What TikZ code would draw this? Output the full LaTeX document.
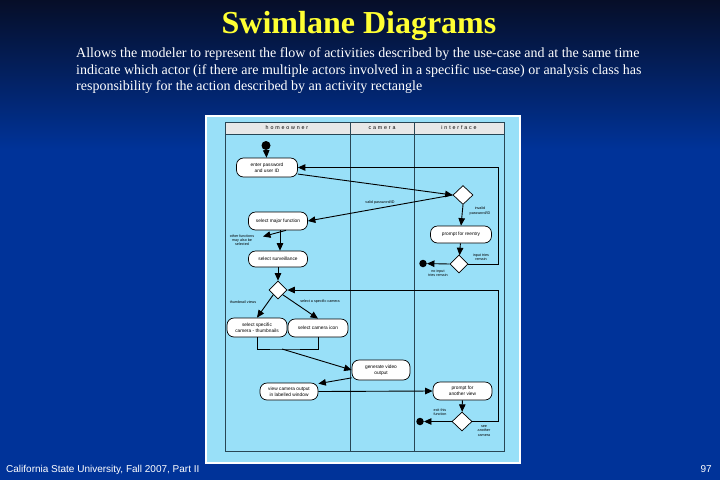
\documentclass[tikz,border=0pt]{standalone}
\usepackage{fontspec}
\setmainfont{Liberation Serif}
\newfontfamily\dsans{Liberation Sans}
\newfontfamily\lanefont[LetterSpace=35]{Liberation Sans}
\usetikzlibrary{shapes.geometric,arrows.meta,calc}
\definecolor{slideblue}{RGB}{0,51,153}
\definecolor{slidetop}{RGB}{6,14,40}
\definecolor{titleyellow}{RGB}{255,255,51}
\definecolor{panelblue}{RGB}{153,224,248}
\definecolor{laneline}{RGB}{40,70,85}
\definecolor{headgray}{RGB}{232,232,232}
\begin{document}
\begin{tikzpicture}[x=1pt,y=-1pt,
  act/.style={draw=black, line width=0.7pt, fill=white, rounded corners=7pt, align=center,
    inner sep=0pt, font=\dsans\fontsize{4.8}{5.6}\selectfont},
  dec/.style={diamond, draw=black, fill=white, line width=0.7pt, inner sep=0pt,
    minimum width=20pt, minimum height=19pt},
  flow/.style={draw=black, line width=0.9pt, -{Triangle[length=7.5pt,width=6.5pt]}},
  plain/.style={draw=black, line width=0.9pt},
  lbl/.style={font=\dsans\fontsize{3.7}{4.3}\selectfont, align=center, inner sep=0pt},
  fin/.style={circle, fill=black, minimum size=7.5pt, inner sep=0pt},
  lanehead/.style={font=\lanefont\fontsize{5.3}{6}\selectfont, inner sep=0pt}
]
\useasboundingbox (0,0) rectangle (720,480);
% background
\shade[top color=slidetop, bottom color=slideblue] (0,0) rectangle (720,150);
\fill[slideblue] (0,149.5) rectangle (720,480);

% texts
\node[anchor=base, text=titleyellow, font=\fontsize{32}{36}\selectfont\bfseries] (title) at (359,33) {Swimlane Diagrams};
\node[anchor=base west, text=white, font=\fontsize{14}{16}\selectfont, inner sep=0pt] (b1) at (76,57.5) {Allows the modeler to represent the flow of activities described by the use-case and at the same time};
\node[anchor=base west, text=white, font=\fontsize{14}{16}\selectfont, inner sep=0pt] (b2) at (76,74) {indicate which actor (if there are multiple actors involved in a specific use-case) or analysis class has};
\node[anchor=base west, text=white, font=\fontsize{14}{16}\selectfont, inner sep=0pt] (b3) at (76,90.5) {responsibility for the action described by an activity rectangle};
\node[anchor=base west, text=white, font=\dsans\fontsize{10}{11}\selectfont, inner sep=0pt] (foot) at (6,472) {California State University, Fall 2007, Part II};
\node[anchor=base east, text=white, font=\dsans\fontsize{10}{11}\selectfont, inner sep=0pt] (pg) at (712,472) {97};

% panel
\draw[white, line width=1.5pt, fill=panelblue] (206,116) rectangle (520,463);
\fill[headgray] (225,122) rectangle (504,134);
\draw[laneline, line width=0.7pt] (225,122) rectangle (504,451);
\draw[laneline, line width=0.7pt] (225,134) -- (504,134);
\draw[laneline, line width=0.7pt] (350,122) -- (350,451);
\draw[laneline, line width=0.7pt] (414,122) -- (414,451);
\node[lanehead] (h1) at (287,128) {homeowner};
\node[lanehead] (h2) at (382,128) {camera};
\node[lanehead] (h3) at (459,128) {interface};

% nodes
\node[circle, fill=black, minimum size=9pt, inner sep=0pt] (st) at (266,145.5) {};
\node[act, minimum width=61pt, minimum height=19pt] (e1) at (267,167.5) {enter password\\and user ID};
\node[dec] (d1) at (463,195) {};
\node[act, minimum width=59pt, minimum height=18pt] (a2) at (278,221) {select major function};
\node[act, minimum width=61pt, minimum height=17pt] (r1) at (461,234.5) {prompt for reentry};
\node[dec, minimum width=18pt, minimum height=18pt] (d2) at (459,264) {};
\node[fin] (f1) at (423,263.5) {};
\node[act, minimum width=59pt, minimum height=16pt] (a3) at (278,259) {select surveillance};
\node[dec, minimum width=18pt, minimum height=18pt] (d3) at (278,290) {};
\node[act, minimum width=60pt, minimum height=19pt] (a4) at (257,327.5) {select specific\\camera - thumbnails};
\node[act, minimum width=60pt, minimum height=18pt] (a5) at (318,328) {select camera icon};
\node[act, minimum width=58pt, minimum height=20pt] (a6) at (381,370) {generate video\\output};
\node[act, minimum width=58pt, minimum height=17pt] (a7) at (289,391.5) {view camera output\\in labelled window};
\node[act, minimum width=59pt, minimum height=18pt] (a8) at (462.5,391) {prompt for\\another view};
\node[dec] (d4) at (462,421.5) {};
\node[fin] (f2) at (420,421.5) {};
\coordinate (c1) at (498,167.5);
\coordinate (c2) at (498,290);
\coordinate (oth) at (263,236.5);
\coordinate (j) at (282,349);

% connectors
\draw[flow] (st) -- (e1);
\draw[flow] (e1.-12) -- (d1.west);
\draw[flow] (d1.west) -- (a2.east);
\draw[flow] (d1.south) -- (r1.north);
\draw[flow] ($(a2.south)+(2,0)$) -- ($(a3.north)+(2,0)$);
\draw[flow] ($(a2.south)+(8,0)$) -- (oth);
\draw[flow] (r1) -- (d2);
\draw[flow] (d2.west) -- (f1);
\draw[flow] (d2.east) -| (c1) -- (e1.east);
\draw[flow] (a3) -- (d3);
\draw[flow] (d3.south west) -- (a4.north);
\draw[flow] (d3.south east) -- (a5.north);
\draw[plain] (a4.south) |- (j) -| (a5.south);
\draw[flow] (j) -- (a6.west);
\draw[flow] (a6.195) -- (a7.15);
\draw[flow] (a7.east) -- (a8.west);
\draw[flow] (a8) -- (d4);
\draw[flow] (d4.west) -- (f2);
\draw[flow] (d4.east) -| (c2) -- (d3.east);

% labels
\node[lbl] (l1) at (380,203) {valid password/ID};
\node[lbl] (l2) at (480,211) {invalid\\password/ID};
\node[lbl] (l3) at (242,240) {other functions\\may also be\\selected};
\node[lbl] (l4) at (481,257) {input tries\\remain};
\node[lbl] (l5) at (438,273) {no input\\tries remain};
\node[lbl] (l6) at (243,302) {thumbnail views};
\node[lbl] (l7) at (320,302) {select a specific camera};
\node[lbl] (l8) at (440,412) {exit this\\function};
\node[lbl] (l9) at (484,431) {see\\another\\camera};
\end{tikzpicture}
\end{document}
